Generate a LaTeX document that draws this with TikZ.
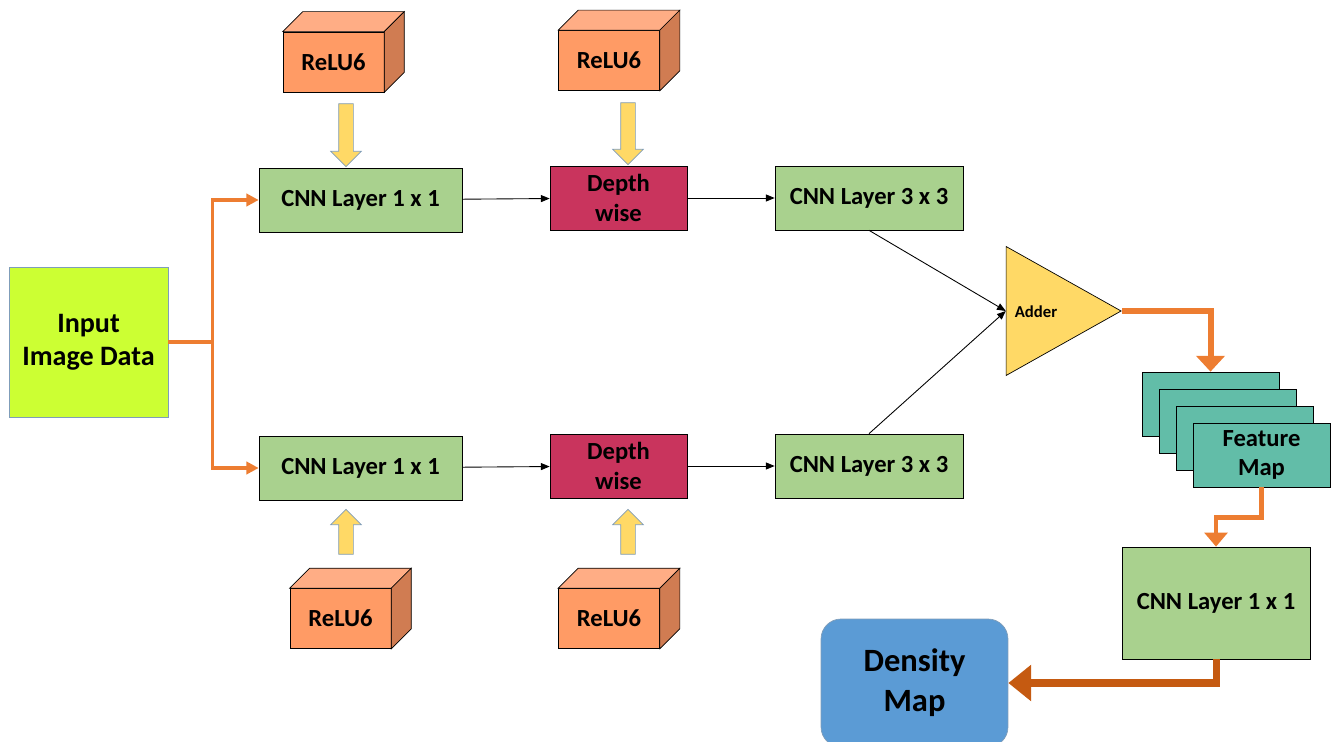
\documentclass[tikz,border=0pt]{standalone}
\usepackage{fontspec}
\setmainfont{Carlito}
\usetikzlibrary{shapes.arrows,shapes.geometric,arrows.meta}
\definecolor{inputgreen}{HTML}{CCFF33}
\definecolor{layergreen}{HTML}{A9D18E}
\definecolor{depthred}{HTML}{C9345D}
\definecolor{reluface}{HTML}{FF9B65}
\definecolor{relutop}{HTML}{FFAD85}
\definecolor{reluside}{HTML}{D07C52}
\definecolor{addyellow}{HTML}{FFD966}
\definecolor{featteal}{HTML}{62BDA8}
\definecolor{densblue}{HTML}{5B9BD5}
\definecolor{lineorange}{HTML}{ED7D31}
\definecolor{darkorange}{HTML}{C55A11}
\definecolor{edgeblue}{HTML}{7F9DB9}
\tikzset{
  layer/.style={draw,fill=layergreen,minimum width=4.06cm,minimum height=1.28cm,inner sep=0pt,font=\fontsize{14}{17}\selectfont\bfseries,align=center},
  depthbox/.style={layer,fill=depthred,minimum width=2.74cm},
  relubox/.style={draw,fill=reluface,minimum width=2.02cm,minimum height=1.2cm,inner sep=0pt,font=\fontsize{14}{17}\selectfont\bfseries},
  featbox/.style={draw,fill=featteal,minimum width=2.74cm,minimum height=1.28cm,inner sep=0pt,font=\fontsize{14}{17}\selectfont\bfseries,align=center},
  blockarrow/.style={single arrow,draw=edgeblue,fill=addyellow,inner xsep=0pt,inner ysep=0.14cm,single arrow head extend=0.16cm},
  thinarrow/.style={-{Triangle[length=5pt,width=4pt]},line width=0.5pt},
  splitarrow/.style={draw=lineorange,line width=2pt,-{Triangle[length=7pt,width=7pt]}}
}
\begin{document}
\begin{tikzpicture}[x=0.02cm,y=-0.02cm]
  \clip (0,0) rectangle (1338,742);
  \node(inp)[draw=edgeblue,fill=inputgreen,minimum width=3.18cm,minimum height=3cm,inner sep=0pt,align=center,font=\fontsize{16}{19}\selectfont\bfseries] at (88.5,342) {Input\\Image Data};
  \node(c1t)[layer] at (360.5,200) {CNN Layer 1 x 1};
  \node(dwt)[depthbox] at (618.5,198) {Depth\\wise};
  \node(c3t)[layer,minimum width=3.76cm] at (869,198) {CNN Layer 3 x 3};
  \node(c1b)[layer] at (360.5,468) {CNN Layer 1 x 1};
  \node(dwb)[depthbox] at (618.5,466) {Depth\\wise};
  \node(c3b)[layer,minimum width=3.76cm] at (869,466) {CNN Layer 3 x 3};
  \node(relu1)[relubox] at (333.5,62) {ReLU6};
  \node(relu2)[relubox] at (609,60.5) {ReLU6};
  \node(relu3)[relubox] at (340.5,618.5) {ReLU6};
  \node(relu4)[relubox] at (609,618.5) {ReLU6};
  \foreach \r in {relu1,relu2,relu3,relu4}{
    \draw[fill=relutop] (\r.north west) -- ([shift={(20,-20)}]\r.north west) -- ([shift={(20,-20)}]\r.north east) -- (\r.north east) -- cycle;
    \draw[fill=reluside] (\r.north east) -- ([shift={(20,-20)}]\r.north east) -- ([shift={(20,-20)}]\r.south east) -- (\r.south east) -- cycle;
  }
  \node(ar1)[blockarrow,minimum height=1.26cm,rotate=-90] at (346,131.5) {};
  \node(ar2)[blockarrow,minimum height=1.24cm,rotate=-90] at (628,130) {};
  \node(ar3)[blockarrow,minimum height=0.9cm,rotate=90] at (346,535.5) {};
  \node(ar4)[blockarrow,minimum height=0.9cm,rotate=90] at (628,535.5) {};
  \node(adder)[draw,fill=addyellow,isosceles triangle,isosceles triangle stretches,shape border rotate=0,minimum width=2.58cm,minimum height=2.3cm,inner sep=0pt,anchor=apex] at (1122,311) {};
  \node(addtxt)[font=\fontsize{9.5}{11}\selectfont\bfseries] at (1036,312) {Adder};
  \node(fm1)[featbox] at (1210.5,404) {};
  \node(fm2)[featbox] at (1227.5,421) {};
  \node(fm3)[featbox] at (1244.5,438) {};
  \node(fm4)[featbox] at (1261.5,455) {Feature\\Map};
  \node(c1r)[layer,minimum width=3.76cm,minimum height=2.24cm] at (1216,603) {CNN Layer 1 x 1};
  \node(dens)[draw=edgeblue,fill=densblue,rounded corners=0.4cm,minimum width=3.74cm,minimum height=2.56cm,inner sep=0pt,align=center,font=\fontsize{18.5}{22.7}\selectfont\bfseries] at (914.5,683) {Density\\Map};
  \draw[splitarrow] (inp.east) -- ++(44,0) |- (c1t.west);
  \draw[splitarrow] (inp.east) -- ++(44,0) |- (c1b.west);
  \draw[thinarrow] (c1t) -- (dwt);
  \draw[thinarrow] (dwt) -- (c3t);
  \draw[thinarrow] (c1b) -- (dwb);
  \draw[thinarrow] (dwb) -- (c3b);
  \draw[thinarrow] (c3t.south) -- (adder.lower side);
  \draw[thinarrow] (c3b.north) -- (adder.lower side);
  \draw[draw=lineorange,line width=3.4pt,-{Triangle[length=9pt,width=16pt]}] (adder.apex) -| (fm1.north);
  \draw[draw=lineorange,line width=2.8pt,-{Triangle[length=8pt,width=13pt]}] (fm4.south) -- ++(0,30) -| (c1r.north);
  \draw[draw=darkorange,line width=4pt,-{Triangle[length=13pt,width=20pt]}] (c1r.south) |- (dens.east);
\end{tikzpicture}
\end{document}
